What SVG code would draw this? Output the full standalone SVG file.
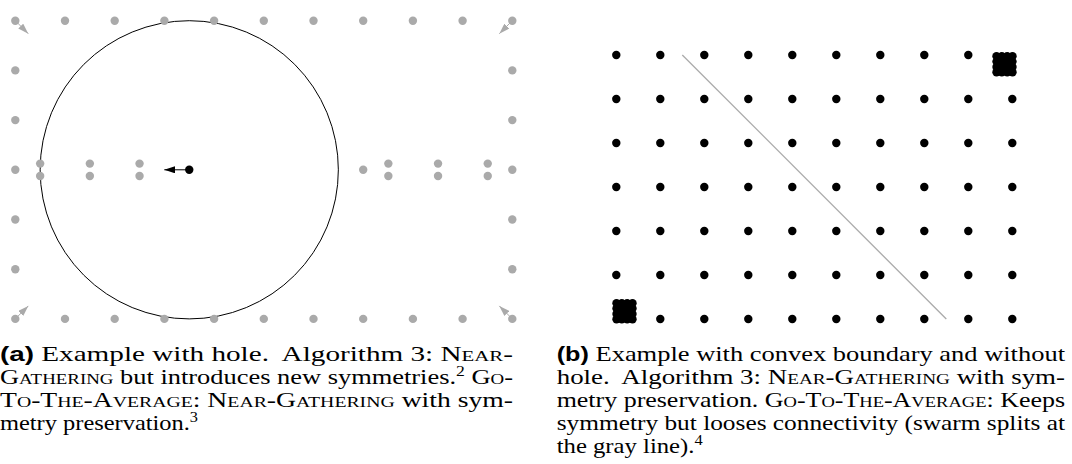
<svg xmlns="http://www.w3.org/2000/svg" width="1072" height="464" viewBox="0 0 1072 464">
<style>
.g{fill:#aaaaaa}
.b{fill:#000000}
.cap{font-family:"Liberation Serif","Times New Roman",serif;font-size:21px;fill:#000}
.lab{font-family:"Liberation Sans",Arial,sans-serif;font-weight:bold;font-size:20px}
.sc{font-variant:small-caps}
.sup{font-size:14px}
</style>
<defs>
<marker id="ab" viewBox="0 -3.5 10.7 7" refX="10.7" refY="0" markerWidth="10.7" markerHeight="7" markerUnits="userSpaceOnUse" orient="auto">
<path d="M0,-3.5 L10.7,0 L0,3.5 z" fill="#000"/>
</marker>
<marker id="ag" viewBox="0 -3.5 10.7 7" refX="10.7" refY="0" markerWidth="10.7" markerHeight="7" markerUnits="userSpaceOnUse" orient="auto">
<path d="M0,-3.5 L10.7,0 L0,3.5 z" fill="#aaaaaa"/>
</marker>
</defs>
<rect width="1072" height="464" fill="#fff"/>

<g id="figA">
<circle id="range" cx="189.25" cy="169.8" r="149.1" fill="none" stroke="#000" stroke-width="1"/>
<g id="figA-dots" class="g">
<circle cx="15.3" cy="20.7" r="4.2"/><circle cx="65" cy="20.7" r="4.2"/><circle cx="114.7" cy="20.7" r="4.2"/><circle cx="164.4" cy="20.7" r="4.2"/><circle cx="214.1" cy="20.7" r="4.2"/><circle cx="263.8" cy="20.7" r="4.2"/><circle cx="313.5" cy="20.7" r="4.2"/><circle cx="363.2" cy="20.7" r="4.2"/><circle cx="412.9" cy="20.7" r="4.2"/><circle cx="462.6" cy="20.7" r="4.2"/><circle cx="512.3" cy="20.7" r="4.2"/>
<circle cx="15.3" cy="318.9" r="4.2"/><circle cx="65" cy="318.9" r="4.2"/><circle cx="114.7" cy="318.9" r="4.2"/><circle cx="164.4" cy="318.9" r="4.2"/><circle cx="214.1" cy="318.9" r="4.2"/><circle cx="263.8" cy="318.9" r="4.2"/><circle cx="313.5" cy="318.9" r="4.2"/><circle cx="363.2" cy="318.9" r="4.2"/><circle cx="412.9" cy="318.9" r="4.2"/><circle cx="462.6" cy="318.9" r="4.2"/><circle cx="512.3" cy="318.9" r="4.2"/>
<circle cx="15.3" cy="70.4" r="4.2"/><circle cx="15.3" cy="120.1" r="4.2"/><circle cx="15.3" cy="169.8" r="4.2"/><circle cx="15.3" cy="219.5" r="4.2"/><circle cx="15.3" cy="269.2" r="4.2"/>
<circle cx="512.3" cy="70.4" r="4.2"/><circle cx="512.3" cy="120.1" r="4.2"/><circle cx="512.3" cy="169.8" r="4.2"/><circle cx="512.3" cy="219.5" r="4.2"/><circle cx="512.3" cy="269.2" r="4.2"/>
<circle cx="40.15" cy="163.6" r="4.2"/><circle cx="40.15" cy="176" r="4.2"/>
<circle cx="89.85" cy="163.6" r="4.2"/><circle cx="89.85" cy="176" r="4.2"/>
<circle cx="139.55" cy="163.6" r="4.2"/><circle cx="139.55" cy="176" r="4.2"/>
<circle cx="363.2" cy="169.8" r="4.2"/>
<circle cx="388.35" cy="163.6" r="4.2"/><circle cx="388.35" cy="176" r="4.2"/>
<circle cx="438.05" cy="163.6" r="4.2"/><circle cx="438.05" cy="176" r="4.2"/>
<circle cx="487.75" cy="163.6" r="4.2"/><circle cx="487.75" cy="176" r="4.2"/>
</g>
<g id="robot"><circle class="b" cx="189.25" cy="169.8" r="4.2"/></g>
</g>

<g id="figB">
<line id="splitline" x1="682.3" y1="55" x2="946.3" y2="319" stroke="#aaaaaa" stroke-width="1.3"/>
<g id="figB-dots" class="b">
<circle cx="616.3" cy="55" r="4.2"/><circle cx="660.3" cy="55" r="4.2"/><circle cx="704.3" cy="55" r="4.2"/><circle cx="748.3" cy="55" r="4.2"/><circle cx="792.3" cy="55" r="4.2"/><circle cx="836.3" cy="55" r="4.2"/><circle cx="880.3" cy="55" r="4.2"/><circle cx="924.3" cy="55" r="4.2"/><circle cx="968.3" cy="55" r="4.2"/>
<circle cx="616.3" cy="99" r="4.2"/><circle cx="660.3" cy="99" r="4.2"/><circle cx="704.3" cy="99" r="4.2"/><circle cx="748.3" cy="99" r="4.2"/><circle cx="792.3" cy="99" r="4.2"/><circle cx="836.3" cy="99" r="4.2"/><circle cx="880.3" cy="99" r="4.2"/><circle cx="924.3" cy="99" r="4.2"/><circle cx="968.3" cy="99" r="4.2"/><circle cx="1012.3" cy="99" r="4.2"/>
<circle cx="616.3" cy="143" r="4.2"/><circle cx="660.3" cy="143" r="4.2"/><circle cx="704.3" cy="143" r="4.2"/><circle cx="748.3" cy="143" r="4.2"/><circle cx="792.3" cy="143" r="4.2"/><circle cx="836.3" cy="143" r="4.2"/><circle cx="880.3" cy="143" r="4.2"/><circle cx="924.3" cy="143" r="4.2"/><circle cx="968.3" cy="143" r="4.2"/><circle cx="1012.3" cy="143" r="4.2"/>
<circle cx="616.3" cy="187" r="4.2"/><circle cx="660.3" cy="187" r="4.2"/><circle cx="704.3" cy="187" r="4.2"/><circle cx="748.3" cy="187" r="4.2"/><circle cx="792.3" cy="187" r="4.2"/><circle cx="836.3" cy="187" r="4.2"/><circle cx="880.3" cy="187" r="4.2"/><circle cx="924.3" cy="187" r="4.2"/><circle cx="968.3" cy="187" r="4.2"/><circle cx="1012.3" cy="187" r="4.2"/>
<circle cx="616.3" cy="231" r="4.2"/><circle cx="660.3" cy="231" r="4.2"/><circle cx="704.3" cy="231" r="4.2"/><circle cx="748.3" cy="231" r="4.2"/><circle cx="792.3" cy="231" r="4.2"/><circle cx="836.3" cy="231" r="4.2"/><circle cx="880.3" cy="231" r="4.2"/><circle cx="924.3" cy="231" r="4.2"/><circle cx="968.3" cy="231" r="4.2"/><circle cx="1012.3" cy="231" r="4.2"/>
<circle cx="616.3" cy="275" r="4.2"/><circle cx="660.3" cy="275" r="4.2"/><circle cx="704.3" cy="275" r="4.2"/><circle cx="748.3" cy="275" r="4.2"/><circle cx="792.3" cy="275" r="4.2"/><circle cx="836.3" cy="275" r="4.2"/><circle cx="880.3" cy="275" r="4.2"/><circle cx="924.3" cy="275" r="4.2"/><circle cx="968.3" cy="275" r="4.2"/><circle cx="1012.3" cy="275" r="4.2"/>
<circle cx="660.3" cy="319" r="4.2"/><circle cx="704.3" cy="319" r="4.2"/><circle cx="748.3" cy="319" r="4.2"/><circle cx="792.3" cy="319" r="4.2"/><circle cx="836.3" cy="319" r="4.2"/><circle cx="880.3" cy="319" r="4.2"/><circle cx="924.3" cy="319" r="4.2"/><circle cx="968.3" cy="319" r="4.2"/><circle cx="1012.3" cy="319" r="4.2"/>
</g>
<g id="cluster-tr" class="b">
<circle cx="996.5" cy="56.3" r="4.2"/><circle cx="1001.8" cy="56.3" r="4.2"/><circle cx="1007.2" cy="56.3" r="4.2"/><circle cx="1012.5" cy="56.3" r="4.2"/>
<circle cx="996.5" cy="61.6" r="4.2"/><circle cx="1001.8" cy="61.6" r="4.2"/><circle cx="1007.2" cy="61.6" r="4.2"/><circle cx="1012.5" cy="61.6" r="4.2"/>
<circle cx="996.5" cy="67" r="4.2"/><circle cx="1001.8" cy="67" r="4.2"/><circle cx="1007.2" cy="67" r="4.2"/><circle cx="1012.5" cy="67" r="4.2"/>
<circle cx="996.5" cy="72.3" r="4.2"/><circle cx="1001.8" cy="72.3" r="4.2"/><circle cx="1007.2" cy="72.3" r="4.2"/><circle cx="1012.5" cy="72.3" r="4.2"/>
</g>
<g id="cluster-bl" class="b">
<circle cx="616.5" cy="303.2" r="4.2"/><circle cx="621.8" cy="303.2" r="4.2"/><circle cx="627.2" cy="303.2" r="4.2"/><circle cx="632.5" cy="303.2" r="4.2"/>
<circle cx="616.5" cy="308.5" r="4.2"/><circle cx="621.8" cy="308.5" r="4.2"/><circle cx="627.2" cy="308.5" r="4.2"/><circle cx="632.5" cy="308.5" r="4.2"/>
<circle cx="616.5" cy="313.9" r="4.2"/><circle cx="621.8" cy="313.9" r="4.2"/><circle cx="627.2" cy="313.9" r="4.2"/><circle cx="632.5" cy="313.9" r="4.2"/>
<circle cx="616.5" cy="319.2" r="4.2"/><circle cx="621.8" cy="319.2" r="4.2"/><circle cx="627.2" cy="319.2" r="4.2"/><circle cx="632.5" cy="319.2" r="4.2"/>
</g>
</g>

<g id="connectors">
<line x1="189.25" y1="169.8" x2="164.3" y2="169.8" stroke="#000" stroke-width="1" marker-end="url(#ab)"/>
<line x1="15.3" y1="20.7" x2="28.3" y2="33.7" stroke="#aaaaaa" stroke-width="1" marker-end="url(#ag)"/>
<line x1="512.3" y1="20.7" x2="499.3" y2="33.7" stroke="#aaaaaa" stroke-width="1" marker-end="url(#ag)"/>
<line x1="15.3" y1="318.9" x2="28.3" y2="305.9" stroke="#aaaaaa" stroke-width="1" marker-end="url(#ag)"/>
<line x1="512.3" y1="318.9" x2="499.3" y2="305.9" stroke="#aaaaaa" stroke-width="1" marker-end="url(#ag)"/>
</g>

<g id="captionA" class="cap">
<text x="0" y="361" textLength="513" lengthAdjust="spacingAndGlyphs"><tspan class="lab">(a)</tspan> Example with hole. <tspan dx="5">Algorithm 3: </tspan><tspan class="sc">Near-</tspan></text>
<text x="0" y="384" textLength="513" lengthAdjust="spacingAndGlyphs"><tspan class="sc">Gathering</tspan> but introduces new symmetries.<tspan class="sup" dy="-8">2</tspan><tspan dy="8"> </tspan><tspan class="sc">Go-</tspan></text>
<text x="0" y="407" textLength="513" lengthAdjust="spacingAndGlyphs"><tspan class="sc">To-The-Average:</tspan> <tspan class="sc">Near-Gathering</tspan> with sym-</text>
<text x="0" y="430" textLength="198" lengthAdjust="spacingAndGlyphs">metry preservation.<tspan class="sup" dy="-8">3</tspan></text>
</g>

<g id="captionB" class="cap">
<text x="556.7" y="361" textLength="508.3" lengthAdjust="spacingAndGlyphs"><tspan class="lab">(b)</tspan> Example with convex boundary and without</text>
<text x="556.7" y="384" textLength="508.3" lengthAdjust="spacingAndGlyphs">hole. <tspan dx="5">Algorithm 3: </tspan><tspan class="sc">Near-Gathering</tspan> with sym-</text>
<text x="556.7" y="407" textLength="508.3" lengthAdjust="spacingAndGlyphs">metry preservation. <tspan class="sc">Go-To-The-Average:</tspan> Keeps</text>
<text x="556.7" y="430" textLength="508.3" lengthAdjust="spacingAndGlyphs">symmetry but looses connectivity (swarm splits at</text>
<text x="556.7" y="453" textLength="146" lengthAdjust="spacingAndGlyphs">the gray line).<tspan class="sup" dy="-8">4</tspan></text>
</g>
</svg>
